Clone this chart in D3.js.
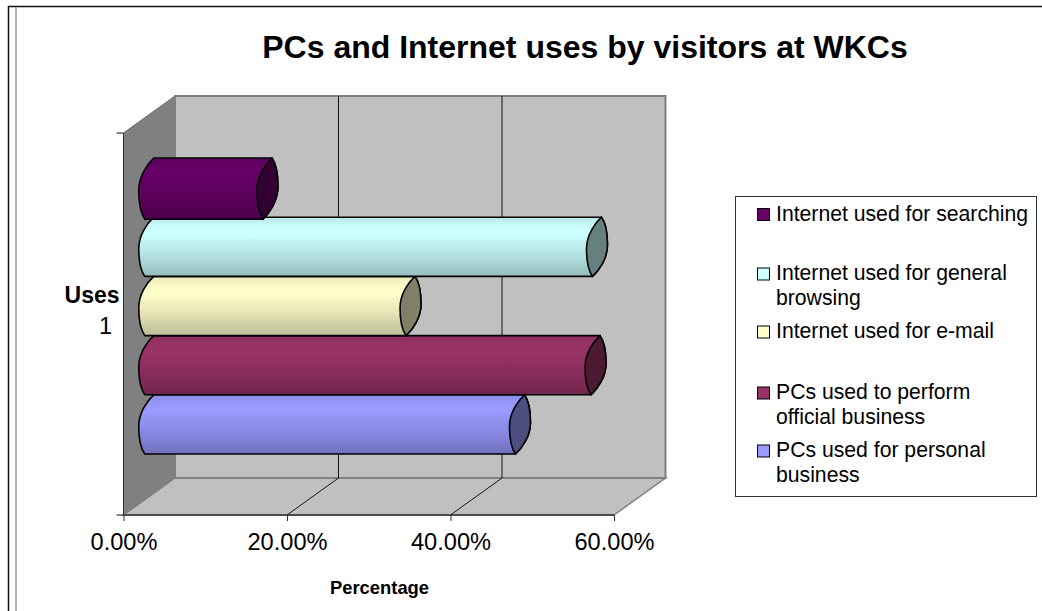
<!DOCTYPE html>
<html><head><meta charset="utf-8">
<script src="https://cdn.jsdelivr.net/npm/d3@7"></script>
<style>html,body{margin:0;padding:0;background:#fff}svg{display:block}text{font-family:"Liberation Sans",Arial,sans-serif;fill:#000}</style>
</head><body><svg id="c" width="1042" height="611"></svg>
<script>
const titleText = "PCs and Internet uses by visitors at WKCs";
const seriesNames = ["Internet used for searching","Internet used for general browsing","Internet used for e-mail","PCs used to perform official business","PCs used for personal business"];
const legendLines = [["Internet used for searching"],["Internet used for general","browsing"],["Internet used for e-mail"],["PCs used to perform","official business"],["PCs used for personal","business"]];
const seriesValues = [0.1446,0.5477,0.3196,0.5459,0.4535];
const seriesColors = ["#660066","#CCFFFF","#FFFFCC","#993366","#9999FF"];
const capColors = ["#330033","#668080","#808066","#4D1A33","#4D4D80"];
const xTicks = [0,0.2,0.4,0.6];
const legendBase = [220.5,280,338,399,457];

const svg = d3.select("#c");
const defs = svg.append("defs");
const x = d3.scaleLinear().domain([0,0.6]).range([123.5,614]);
const y = d3.scaleBand().domain(seriesNames).range([158,454]).paddingInner(0);
const dx = 51.5, dy = -37;
const yTop = 133, yBot = 515;

// frame
svg.append("path").attr("d","M8.5,611V6.5H1042").attr("fill","none").attr("stroke","#111").attr("stroke-width",1.5);
svg.append("line").attr("x1",16).attr("x2",16).attr("y1",7).attr("y2",611).attr("stroke","#999").attr("stroke-width",1.5);

// walls
const l = x(0), r = x(0.6);
svg.append("path").attr("d",`M${l},${yTop}L${l+dx},${yTop+dy}V${yBot+dy}L${l},${yBot}Z`).attr("fill","#808080");
svg.append("path").attr("d",`M${l},${yBot}L${l+dx},${yBot+dy}H${r+dx}L${r},${yBot}Z`).attr("fill","#C0C0C0").attr("stroke","#808080").attr("stroke-width",1.5);
svg.append("rect").attr("x",l+dx).attr("y",yTop+dy).attr("width",r-l).attr("height",yBot-yTop).attr("fill","#C0C0C0").attr("stroke","#808080").attr("stroke-width",2);

// gridlines
xTicks.slice(1,-1).forEach(t=>{
  const X=x(t);
  svg.append("path").attr("d",`M${X},${yBot}L${X+dx},${yBot+dy}V${yTop+dy}`).attr("fill","none").attr("stroke","#111").attr("stroke-width",1);
});

// axes
svg.append("line").attr("x1",l).attr("x2",l).attr("y1",yTop).attr("y2",yBot).attr("stroke","#333").attr("stroke-width",1);
svg.append("line").attr("x1",l).attr("x2",r).attr("y1",yBot).attr("y2",yBot).attr("stroke","#333").attr("stroke-width",1.5);
svg.append("path").attr("d",`M${l},${yTop}L${l+dx},${yTop+dy}`).attr("stroke","#666").attr("fill","none");
[yTop,yBot].forEach(v=>svg.append("line").attr("x1",l-7).attr("x2",l).attr("y1",v).attr("y2",v).attr("stroke","#111"));
const xg = svg.append("g").attr("transform",`translate(0,${yBot})`)
  .call(d3.axisBottom(x).tickValues(xTicks).tickSize(6).tickPadding(12).tickFormat(d3.format(".2%")));
xg.select(".domain").remove();
xg.selectAll("line").attr("stroke","#333");
xg.selectAll("text").attr("font-size",23.6).attr("font-family",'"Liberation Sans",Arial,sans-serif').attr("fill","#000");

// cylinders
const cw = 10.5, skew = 4.5;
seriesColors.forEach((c,i)=>{
  const g=defs.append("linearGradient").attr("id","g"+i).attr("x1",0).attr("x2",0).attr("y1",0).attr("y2",1);
  [[0,.1],[.1,.04],[.2,0],[.3,0],[.45,.06],[.6,.1],[.75,.16],[.9,.22],[1,.26]].forEach(([o,k])=>
    g.append("stop").attr("offset",o).attr("stop-color",d3.interpolateRgb(c,"#000")(k)));
});
const cx0 = x(0)+dx/2;
d3.range(seriesNames.length).reverse().forEach(i=>{
  const n=seriesNames[i], y0=y(n), y1=y0+y.bandwidth()+(i===0?2:0), m=(y0+y1)/2;
  const cL=cx0, cR=x(seriesValues[i])+dx/2;
  const k=(y1-y0)*0.2;
  const body=d3.path();
  body.moveTo(cL+skew,y0); body.lineTo(cR+skew,y0);
  body.bezierCurveTo(cR+cw-1,y0+k*.6,cR+cw,m-k,cR+cw,m-2);
  body.bezierCurveTo(cR+cw,m+k,cR+2,y1-k*.5,cR-skew,y1);
  body.lineTo(cL-skew,y1);
  body.bezierCurveTo(cL-cw+1,y1-k*.6,cL-cw,m+k,cL-cw,m+2);
  body.bezierCurveTo(cL-cw,m-k,cL-2,y0+k*.5,cL+skew,y0);
  body.closePath();
  svg.append("path").attr("d",body.toString()).attr("fill",`url(#g${i})`).attr("stroke","#000").attr("stroke-width",1.6).attr("stroke-linejoin","round");
  const cap=d3.path();
  cap.moveTo(cR+skew,y0);
  cap.bezierCurveTo(cR+cw-1,y0+k*.6,cR+cw,m-k,cR+cw,m-2);
  cap.bezierCurveTo(cR+cw,m+k,cR+2,y1-k*.5,cR-skew,y1);
  cap.bezierCurveTo(cR-cw+1,y1-k*.6,cR-cw,m+k,cR-cw,m+2);
  cap.bezierCurveTo(cR-cw,m-k,cR-2,y0+k*.5,cR+skew,y0);
  cap.closePath();
  svg.append("path").attr("d",cap.toString()).attr("fill",capColors[i]).attr("stroke","#000").attr("stroke-width",1.6);
});

// titles
svg.append("text").attr("x",585).attr("y",58).attr("text-anchor","middle").attr("font-size",32).attr("font-weight","bold").text(titleText);
svg.append("text").attr("x",119.5).attr("y",302.5).attr("text-anchor","end").attr("font-size",23).attr("font-weight","bold").text("Uses");
svg.append("text").attr("x",112).attr("y",334).attr("text-anchor","end").attr("font-size",23.6).text("1");
svg.append("text").attr("x",379.5).attr("y",593.5).attr("text-anchor","middle").attr("font-size",18.4).attr("font-weight","bold").text("Percentage");

// legend
svg.append("rect").attr("x",735.5).attr("y",196.5).attr("width",301).attr("height",300).attr("fill","#fff").attr("stroke","#333");
legendLines.forEach((ls,i)=>{
  const b=legendBase[i];
  svg.append("rect").attr("x",757.5).attr("y",b-12).attr("width",12).attr("height",12).attr("fill",seriesColors[i]).attr("stroke","#000");
  const t=svg.append("text").attr("font-size",21.2);
  ls.forEach((s,j)=>t.append("tspan").attr("x",776).attr("y",b+j*24.5).text(s));
});
</script></body></html>
